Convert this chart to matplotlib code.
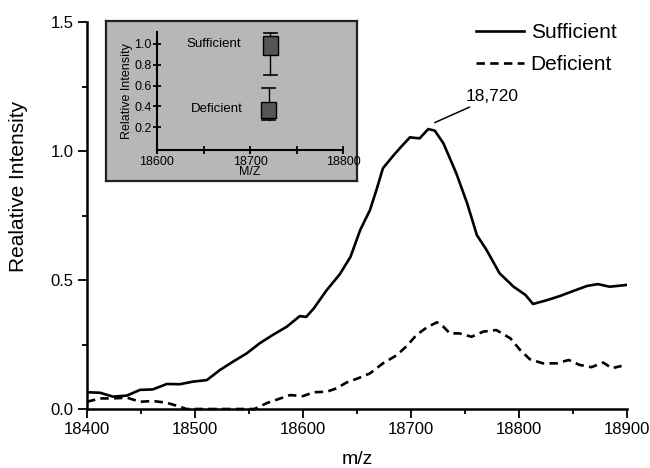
import numpy as np
import matplotlib
matplotlib.use("Agg")
import matplotlib.pyplot as plt
from matplotlib.ticker import MultipleLocator

plt.rcParams["font.family"] = ["Liberation Sans", "DejaVu Sans"]

# ── data ──────────────────────────────────────────────────────────────────────
mz_suff = [18400, 18412, 18424, 18437, 18449, 18461, 18474, 18486, 18498, 18511,
           18523, 18535, 18548, 18560, 18572, 18585, 18597, 18603, 18610, 18622,
           18634, 18644, 18653, 18662, 18668, 18674, 18684, 18691, 18699, 18708,
           18716, 18722, 18730, 18742, 18752, 18761, 18770, 18782, 18795, 18806,
           18813, 18826, 18838, 18850, 18863, 18873, 18884, 18900]
val_suff = [0.065, 0.063, 0.048, 0.052, 0.074, 0.076, 0.097, 0.096, 0.106, 0.112,
            0.151, 0.183, 0.216, 0.255, 0.287, 0.319, 0.360, 0.357, 0.390, 0.461,
            0.522, 0.590, 0.694, 0.771, 0.849, 0.933, 0.984, 1.017, 1.053, 1.049,
            1.085, 1.079, 1.030, 0.913, 0.797, 0.674, 0.616, 0.526, 0.474, 0.442,
            0.407, 0.422, 0.438, 0.457, 0.477, 0.484, 0.474, 0.481]

mz_def = [18400, 18412, 18424, 18437, 18449, 18461, 18474, 18486, 18492, 18555,
          18566, 18579, 18588, 18600, 18610, 18622, 18631, 18640, 18651, 18662,
          18674, 18687, 18697, 18705, 18715, 18724, 18730, 18736, 18745, 18756,
          18767, 18779, 18792, 18801, 18810, 18822, 18835, 18846, 18856, 18867,
          18878, 18886, 18895]
val_def = [0.028, 0.041, 0.041, 0.044, 0.028, 0.031, 0.024, 0.009, 0.0, 0.0,
           0.022, 0.041, 0.054, 0.050, 0.065, 0.067, 0.080, 0.102, 0.119, 0.138,
           0.177, 0.209, 0.248, 0.287, 0.317, 0.336, 0.319, 0.293, 0.293, 0.280,
           0.300, 0.306, 0.274, 0.229, 0.193, 0.177, 0.177, 0.190, 0.171, 0.162,
           0.180, 0.158, 0.167]

peak_mz, peak_val = 18722, 1.11
peak_label = "18,720"

# inset box-plot summary (whisker low, q1, q3, whisker high)
box_groups = ["Sufficient", "Deficient"]
box_pos = [18722, 18720]
box_whislo = [0.70, 0.27]
box_q1 = [0.89, 0.29]
box_q3 = [1.08, 0.44]
box_whishi = [1.11, 0.58]

W, H = 650, 468
fig = plt.figure(figsize=(W / 100, H / 100), dpi=100)

# ── main spectrum ─────────────────────────────────────────────────────────────
ax = fig.add_axes([87 / W, 59 / H, 540 / W, 387 / H])
ax.plot(mz_suff, val_suff, "-", color="black", lw=1.9, label="Sufficient")
ax.plot(mz_def, val_def, "--", color="black", lw=1.9, dashes=(3.2, 2.0),
        label="Deficient", clip_on=False)
ax.set_xlim(18400, 18900)
ax.set_ylim(0, 1.5)
ax.xaxis.set_major_locator(MultipleLocator(100))
ax.xaxis.set_minor_locator(MultipleLocator(50))
ax.yaxis.set_major_locator(MultipleLocator(0.5))
ax.yaxis.set_minor_locator(MultipleLocator(0.25))
ax.yaxis.set_major_formatter(plt.FormatStrFormatter("%.1f"))
for s in ("top", "right"):
    ax.spines[s].set_visible(False)
for s in ("left", "bottom"):
    ax.spines[s].set_linewidth(1.8)
ax.tick_params(which="major", direction="out", length=6.5, width=1.3,
               labelsize=12, pad=3)
ax.tick_params(which="minor", direction="out", length=3.5, width=1.3)
ax.set_xlabel("m/z", fontsize=14, va="baseline")
ax.set_ylabel("Realative Intensity", fontsize=15)
ax.xaxis.set_label_coords(0.5, -0.142)
ax.yaxis.set_label_coords(-0.11, 0.574)

ax.legend(loc="upper right", bbox_to_anchor=(1.015, 1.045), frameon=False,
          fontsize=15, handlelength=2.3, handletextpad=0.3, labelspacing=0.62)

ax.annotate(peak_label, xy=(peak_mz, peak_val), xytext=(18751, 1.21),
            fontsize=12.5, ha="left", va="center",
            arrowprops=dict(arrowstyle="-", color="black", lw=1.1,
                            shrinkA=0, shrinkB=0))

# ── inset: grey panel + box plots ─────────────────────────────────────────────
panel = fig.add_axes([106 / W, (H - 181) / H, 251 / W, 160 / H])
panel.set_facecolor("#b7b7b7")
panel.set_xticks([]); panel.set_yticks([])
for s in panel.spines.values():
    s.set_linewidth(1.6); s.set_color("#222222")

ins = fig.add_axes([157 / W, (H - 150) / H, 186 / W, 118.5 / H])
ins.patch.set_alpha(0)
stats = [dict(label=g, whislo=lo, q1=a, med=a, q3=b, whishi=hi, fliers=[])
         for g, lo, a, b, hi in zip(box_groups, box_whislo, box_q1, box_q3,
                                    box_whishi)]
ins.bxp(stats, positions=box_pos, widths=16, patch_artist=True,
        showfliers=False, capwidths=14, manage_ticks=False,
        boxprops=dict(facecolor="#565656", edgecolor="black", lw=1.0),
        medianprops=dict(lw=0),
        whiskerprops=dict(color="black", lw=1.0),
        capprops=dict(color="black", lw=1.2))
ins.set_xlim(18600, 18800)
ins.set_ylim(-0.02, 1.12)
ins.set_xticks([18600, 18700, 18800])
ins.xaxis.set_minor_locator(MultipleLocator(50))
ins.set_yticks([0.2, 0.4, 0.6, 0.8, 1.0])
ins.yaxis.set_major_formatter(plt.FormatStrFormatter("%.1f"))
for s in ("top", "right"):
    ins.spines[s].set_visible(False)
for s in ("left", "bottom"):
    ins.spines[s].set_linewidth(1.5)
ins.spines["left"].set_bounds(-0.02, 1.12)
ins.tick_params(which="both", direction="inout", length=6, width=1.3,
                labelsize=9, pad=1)
ins.set_xlabel("M/Z", fontsize=9, labelpad=-1)
ins.set_ylabel("Relative Intensity", fontsize=9, labelpad=1)
ins.text(18661, 1.0, box_groups[0], fontsize=9.5, ha="center", va="center")
ins.text(18664, 0.375, box_groups[1], fontsize=9.5, ha="center", va="center")

fig.savefig("out.png", dpi=100)
